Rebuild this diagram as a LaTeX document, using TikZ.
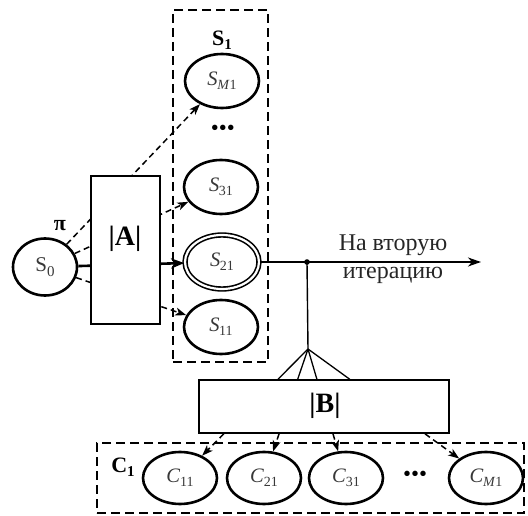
\documentclass[tikz,border=0pt]{standalone}
\usepackage{fontspec}
\setmainfont{Liberation Serif}
\usetikzlibrary{shapes.geometric,arrows.meta,intersections}
% state name: italic letter with a lowered subscript
\newcommand\stname[2]{\textit{#1}\kern-0.3pt\raisebox{-0.45ex}{\fontsize{14}{14}\selectfont #2}}
\begin{document}
\begin{tikzpicture}[x=1pt,y=-1pt,
  state/.style={ellipse,draw,line width=2.6pt,minimum width=74pt,minimum height=54pt,
    inner sep=0pt,text=black!78,font=\fontsize{20.5}{22}\selectfont},
  group/.style={draw,dashed,line width=1.5pt,dash pattern=on 9pt off 5pt,inner sep=0pt},
  matrixbox/.style={draw,line width=1.6pt,fill=white,inner sep=0pt},
  arr/.style={-{Stealth[length=11pt,width=8pt,inset=3pt]}},
  link/.style={line width=1.4pt},
  dlink/.style={line width=1.5pt,dash pattern=on 6pt off 4pt},
  biglabel/.style={font=\fontsize{28}{30}\selectfont\bfseries},
  setlabel/.style={font=\fontsize{22}{24}\selectfont\bfseries}
]
\useasboundingbox (0,0) rectangle (528,516);

% set S_1 and its states
\node[group,minimum width=95pt,minimum height=352pt] (S1box) at (220.5,186) {};
\node[setlabel] (S1lab) at (222,40) {S\raisebox{-0.4ex}{\fontsize{15}{15}\selectfont 1}};
\node[state] (sM1) at (222,81) {\stname{S}{\textit{M}1}};
\node[font=\fontsize{20}{20}\selectfont\bfseries] (sdots) at (223,130) {\textbullet\kern1pt\textbullet\kern1pt\textbullet};
\node[state] (s31) at (221,187) {\stname{S}{31}};
\node[state,double,double distance=2.2pt,line width=1.6pt] (s21) at (222,262) {\stname{S}{21}};
\node[state] (s11) at (221,327) {\stname{S}{11}};

% initial state
\node[state,minimum width=64pt,minimum height=57pt,font=\fontsize{21}{21}\selectfont] (s0) at (45,267) {S\raisebox{-0.45ex}{\fontsize{15}{15}\selectfont 0}};
\node[font=\fontsize{22}{22}\selectfont\bfseries] (pi) at (60,226) {π};

% transitions from S_0 through |A|
\draw[dlink,arr] (s0) -- (sM1);
\draw[dlink,arr] (s0) -- (s31);
\draw[line width=2.6pt,-{Stealth[length=13pt,width=10pt,inset=3pt]}] (s0) -- (s21);
\draw[dlink,arr] (s0) -- (s11);

\node[matrixbox,minimum width=69pt,minimum height=148pt] (A) at (125.5,250) {};
\node[biglabel] (Alab) at (125,239) {|A|};

% output of S_21
\coordinate (j) at (307,262);
\coordinate (out) at (481,262);
\coordinate (f) at (308,349);
\draw[line width=1.8pt,-{Stealth[length=13pt,width=9pt,inset=4pt]}] (s21) -- (out);
\fill (j) circle (2.8pt);
\draw[link] (j) -- (f);
\node[font=\fontsize{24}{28}\selectfont,align=center,text=black!85] (next) at (393,259) {На вторую\\итерацию};

% matrix |B|
\node[matrixbox,minimum width=250pt,minimum height=53pt] (B) at (324,406.5) {};
\node[biglabel] (Blab) at (325,406) {|B|};
\path[name path=Btop] (B.north west) -- (B.north east);
\path[name path=Bbot] (B.south west) -- (B.south east);

% set C_1 and its states
\node[group,minimum width=427pt,minimum height=70pt] (C1box) at (310.5,478) {};
\node[setlabel] (C1lab) at (123,467) {C\raisebox{-0.4ex}{\fontsize{15}{15}\selectfont 1}};
\node[state,minimum height=52pt] (c11) at (180,478) {\stname{C}{11}};
\node[state,minimum height=52pt] (c21) at (264,478) {\stname{C}{21}};
\node[state,minimum height=52pt] (c31) at (346,478) {\stname{C}{31}};
\node[font=\fontsize{20}{20}\selectfont\bfseries] (cdots) at (415,476) {\textbullet\kern1pt\textbullet\kern1pt\textbullet};
\node[state,minimum height=52pt] (cM1) at (486,478) {\stname{C}{\textit{M}1}};

% fan from the branch point through |B|
\foreach \c in {c11,c21,c31,cM1}{
  \path[name path=ray] (f) -- (\c);
  \path[name intersections={of=ray and Btop,by=top}];
  \path[name intersections={of=ray and Bbot,by=bot}];
  \draw[line width=1.3pt] (f) -- (top);
  \draw[dlink,arr] (bot) -- (\c);
}
\end{tikzpicture}
\end{document}
